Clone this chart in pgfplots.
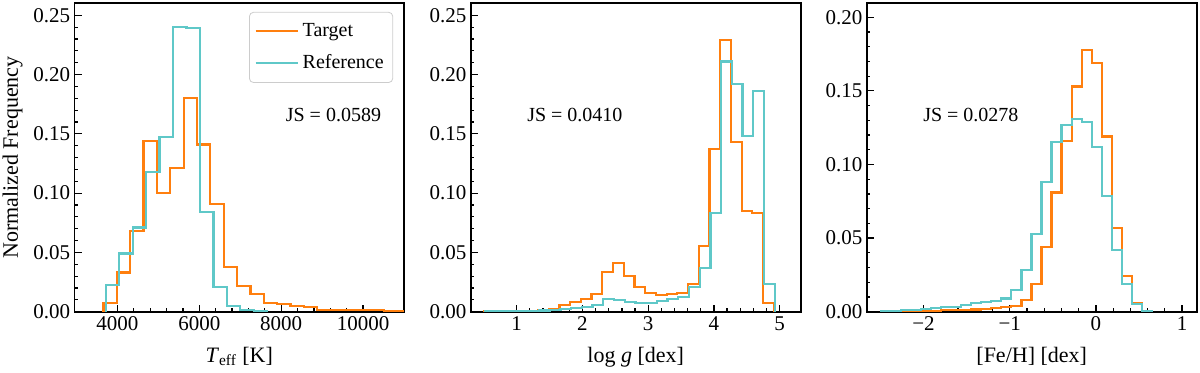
\documentclass[border=0pt]{standalone}
\usepackage{fontspec}
\setmainfont{Liberation Serif}
\usepackage{pgfplots}
\pgfplotsset{compat=1.18}
\definecolor{target}{RGB}{255,127,14}
\definecolor{refc}{RGB}{95,200,200}

\pgfplotsset{
  histax/.style={
    height=154.2pt, scale only axis,
    ymin=0, scaled ticks=false,
    tick align=inside, xtick pos=bottom, ytick pos=left,
    major tick length=3.5pt, minor tick length=1.8pt,
    tick style={black, line width=0.6pt},
    axis line style={line width=0.9pt},
    minor x tick num=4, minor y tick num=4,
    ticklabel style={font=\fontsize{10.5}{12}\selectfont},
    xticklabel style={anchor=base, yshift=-9.2pt},
    yticklabel style={anchor=east, inner xsep=0pt, xshift=-2pt},
    xlabel style={at={(axis description cs:0.5,0)}, anchor=base,
                  yshift=-25.2pt, font=\fontsize{11}{13}\selectfont},
    ylabel style={at={(axis description cs:-0.188,0.5)}, anchor=center,
                  font=\fontsize{11}{13}\selectfont},
  },
  tgt/.style={target, line width=1.1pt, const plot mark left},
  rfc/.style={refc, line width=1.1pt, const plot mark left},
}

\begin{document}
\begin{tikzpicture}
\path[use as bounding box] (-37.25pt,-30.65pt) rectangle (562.75pt,155.85pt);

% Teff
\begin{axis}[histax, at={(0pt,0pt)}, anchor=south west, width=164.75pt,
  xmin=2950, xmax=11000, ymax=0.2601,
  xtick={4000,6000,8000,10000}, xticklabels={4000,6000,8000,10000},
  ytick={0,0.05,0.10,0.15,0.20,0.25},
  yticklabels={0.00,0.05,0.10,0.15,0.20,0.25},
  xlabel={\textit{T}\textsubscript{eff} [K]},
  ylabel={Normalized Frequency},
  legend style={at={(axis description cs:0.967,0.972)}, anchor=north east,
    draw=black!20, rounded corners=2pt, font=\fontsize{10}{12}\selectfont,
    inner xsep=2.5pt, inner ysep=3.5pt, row sep=3.5pt, cells={anchor=west}},
  legend image code/.code={\draw[#1] (0pt,0pt) -- (21pt,0pt);},
]
\addplot[tgt] coordinates {
  (3657,0) (3657,0.007) (3983.5,0.033) (4310,0.068) (4636.5,0.144)
  (4963,0.100) (5289.5,0.121) (5616,0.180) (5942.5,0.141) (6269,0.091)
  (6595.5,0.038) (6922,0.022) (7248.5,0.0146) (7575,0.0076) (7901.5,0.0065)
  (8228,0.0048) (8554.5,0.0042) (8881,0.0012) (9207.5,0.0014) (9534,0.0015)
  (9860.5,0.0013) (10187,0.0011) (10513.5,0.0009) (10840,0.0008)
  (11166.5,0.0008) (11166.5,0)
};
\addlegendentry{Target}
\addplot[rfc] coordinates {
  (3712,0) (3712,0.0225) (4041,0.049) (4370,0.071) (4699,0.118)
  (5028,0.147) (5357,0.240) (5686,0.239) (6015,0.084) (6344,0.0206)
  (6673,0.0048) (7002,0.0014) (7331,0.0005) (7660,0.0005) (7660,0)
};
\addlegendentry{Reference}
\node[anchor=west, font=\fontsize{10}{12}\selectfont]
  at (axis description cs:0.62,0.637) {JS = 0.0589};
\end{axis}

% log g
\begin{axis}[histax, at={(198.1pt,0pt)}, anchor=south west, width=165pt,
  xmin=0.30, xmax=5.32, ymax=0.2601,
  xtick={1,2,3,4,5}, xticklabels={1,2,3,4,5},
  ytick={0,0.05,0.10,0.15,0.20,0.25},
  yticklabels={0.00,0.05,0.10,0.15,0.20,0.25},
  xlabel={log \textit{g} [dex]},
]
\addplot[tgt] coordinates {
  (0.509,0) (0.509,0.0004) (0.672,0.0005) (0.835,0.0006) (0.998,0.0007)
  (1.161,0.0008) (1.324,0.0012) (1.487,0.002) (1.650,0.0056) (1.813,0.008)
  (1.976,0.0104) (2.139,0.0149) (2.302,0.0337) (2.465,0.0408) (2.628,0.030)
  (2.791,0.0205) (2.954,0.0155) (3.117,0.014) (3.280,0.0146) (3.443,0.016)
  (3.606,0.0235) (3.769,0.0554) (3.932,0.137) (4.095,0.229) (4.258,0.143)
  (4.421,0.085) (4.584,0.083) (4.747,0.0076) (4.910,0.0076) (4.910,0)
};
\addplot[rfc] coordinates {
  (0.524,0) (0.524,0.0003) (0.687,0.0005) (0.850,0.0006) (1.013,0.0007)
  (1.176,0.0008) (1.339,0.001) (1.502,0.0013) (1.665,0.002) (1.828,0.0028)
  (1.991,0.0037) (2.154,0.0056) (2.317,0.0107) (2.480,0.0098) (2.643,0.0084)
  (2.806,0.0076) (2.969,0.0076) (3.132,0.009) (3.295,0.0104) (3.458,0.0127)
  (3.621,0.021) (3.784,0.0366) (3.947,0.083) (4.110,0.211) (4.273,0.192)
  (4.436,0.148) (4.599,0.186) (4.762,0.0233) (4.925,0.0233) (4.925,0)
};
\node[anchor=west, font=\fontsize{10}{12}\selectfont]
  at (axis description cs:0.15,0.637) {JS = 0.0410};
\end{axis}

% [Fe/H]
\begin{axis}[histax, at={(396.1pt,0pt)}, anchor=south west, width=165pt,
  xmin=-2.66, xmax=1.17, ymax=0.2095,
  xtick={-2,-1,0,1}, xticklabels={−2,−1,0,1},
  ytick={0,0.05,0.10,0.15,0.20},
  yticklabels={0.00,0.05,0.10,0.15,0.20},
  xlabel={[Fe/H] [dex]},
]
\addplot[tgt] coordinates {
  (-2.4955,0) (-2.4955,0.0003) (-2.379,0.0003) (-2.2625,0.0004) (-2.146,0.0005)
  (-2.0295,0.0006) (-1.913,0.0007) (-1.7965,0.0009) (-1.68,0.001)
  (-1.5635,0.0012) (-1.447,0.0015) (-1.3305,0.0018) (-1.214,0.0023)
  (-1.0975,0.003) (-0.981,0.0041) (-0.8645,0.0079) (-0.748,0.0188)
  (-0.6315,0.044) (-0.515,0.081) (-0.3985,0.116) (-0.282,0.153)
  (-0.1655,0.178) (-0.049,0.169) (0.0675,0.119) (0.184,0.0566)
  (0.3005,0.024) (0.417,0.006) (0.5335,0.0007) (0.65,0.0007) (0.65,0)
};
\addplot[rfc] coordinates {
  (-2.4955,0) (-2.4955,0.0005) (-2.379,0.0007) (-2.2625,0.0009) (-2.146,0.0014)
  (-2.0295,0.0018) (-1.913,0.0023) (-1.7965,0.003) (-1.68,0.0034)
  (-1.5635,0.0045) (-1.447,0.0057) (-1.3305,0.0068) (-1.214,0.0075)
  (-1.0975,0.009) (-0.981,0.0147) (-0.8645,0.0283) (-0.748,0.0528)
  (-0.6315,0.0883) (-0.515,0.1155) (-0.3985,0.127) (-0.282,0.131)
  (-0.1655,0.129) (-0.049,0.112) (0.0675,0.0786) (0.184,0.042)
  (0.3005,0.019) (0.417,0.0052) (0.5335,0.0004) (0.65,0.0004) (0.65,0)
};
\node[anchor=west, font=\fontsize{10}{12}\selectfont]
  at (axis description cs:0.15,0.637) {JS = 0.0278};
\end{axis}
\end{tikzpicture}
\end{document}
